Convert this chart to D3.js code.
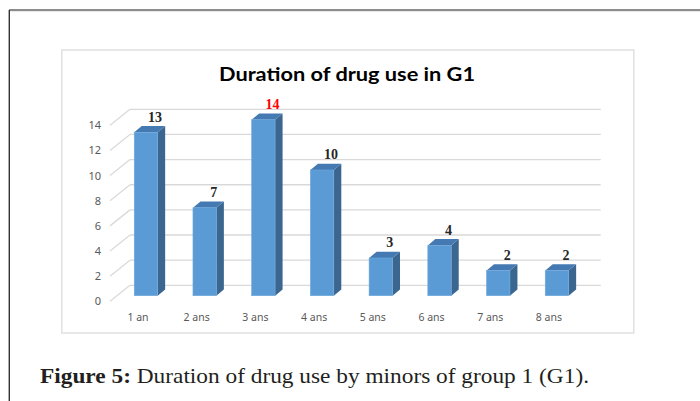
<!DOCTYPE html>
<html>
<head>
<meta charset="utf-8">
<script src="https://cdn.jsdelivr.net/npm/d3@7"></script>
<style>
  body { margin: 0; background: #fff; }
  svg { display: block; }
</style>
</head>
<body>
<svg width="700" height="401"></svg>
<script>
var categories = ["1 an", "2 ans", "3 ans", "4 ans", "5 ans", "6 ans", "7 ans", "8 ans"];
var values = [13, 7, 14, 10, 3, 4, 2, 2];
var yTicks = [0, 2, 4, 6, 8, 10, 12, 14];
var highlight = "3 ans";

var svg = d3.select("svg");

// page frame
svg.append("rect").attr("x", 9).attr("y", 9).attr("width", 691).attr("height", 2.2).attr("fill", "#8c8c8c");
svg.append("rect").attr("x", 8.6).attr("y", 10).attr("width", 1.4).attr("height", 391).attr("fill", "#333");

// chart area box
svg.append("rect")
  .attr("x", 61.8).attr("y", 50).attr("width", 572).attr("height", 283)
  .attr("fill", "#fff").attr("stroke", "#dedede").attr("stroke-width", 1.4);

svg.append("text")
  .attr("x", 347).attr("y", 81)
  .attr("text-anchor", "middle")
  .style("font-family", "Lato, 'Open Sans', sans-serif")
  .style("font-weight", "bold")
  .style("font-size", "19px")
  .attr("fill", "#000")
  .attr("textLength", 256)
  .attr("lengthAdjust", "spacingAndGlyphs")
  .text("Duration of drug use in G1");

// 3D geometry: back wall, floor depth, bar depth
var wallDx = 20, wallDy = -16;
var barDx = 7.5, barDy = -6.3;
var barShift = 10.4; // back wall baseline sits above bar baseline

var y = d3.scaleLinear().domain([0, 14]).range([285.3, 109.3]);
var x = d3.scaleBand().domain(categories).range([116.6, 586.3]);
var barW = 23.4;

var g = svg.append("g");

// gridlines on back wall + diagonals on side wall
yTicks.forEach(function (t) {
  g.append("line")
    .attr("x1", 130).attr("x2", 600.7)
    .attr("y1", y(t)).attr("y2", y(t))
    .attr("stroke", "#d9d9d9").attr("stroke-width", 1.3);
  g.append("line")
    .attr("x1", 130 - wallDx).attr("y1", y(t) - wallDy)
    .attr("x2", 130).attr("y2", y(t))
    .attr("stroke", "#d9d9d9").attr("stroke-width", 1.3);
  g.append("text")
    .attr("x", 101).attr("y", y(t) - wallDy + 4)
    .attr("text-anchor", "end")
    .style("font-family", "'Noto Sans', sans-serif")
    .style("font-size", "11px")
    .attr("fill", "#595959")
    .text(t);
});

var data = categories.map(function (c, i) { return { cat: c, v: values[i] }; });

var bars = g.append("g").selectAll("g")
  .data(data)
  .enter().append("g");

function bx(d) { return x(d.cat) + (x.bandwidth() - barW) / 2; }
function barBase() { return y(0) + barShift; }
function barTop(d) { return y(d.v) + barShift; }

// side face
bars.append("path")
  .attr("fill", "#3b6690")
  .attr("d", function (d) {
    var x1 = bx(d) + barW, b = barBase(), t = barTop(d);
    return "M" + x1 + "," + b + "L" + (x1 + barDx) + "," + (b + barDy) +
      "L" + (x1 + barDx) + "," + (t + barDy) + "L" + x1 + "," + t + "Z";
  });

// top face
bars.append("path")
  .attr("fill", "#4479b2")
  .attr("d", function (d) {
    var x0 = bx(d), t = barTop(d);
    return "M" + x0 + "," + t + "L" + (x0 + barW) + "," + t +
      "L" + (x0 + barW + barDx) + "," + (t + barDy) + "L" + (x0 + barDx) + "," + (t + barDy) + "Z";
  });

// front face
bars.append("rect")
  .attr("x", bx)
  .attr("y", barTop)
  .attr("width", barW)
  .attr("height", function (d) { return barBase() - barTop(d); })
  .attr("fill", "#5b9bd5")
  .attr("stroke", "#6fa8dc").attr("stroke-width", 0.6);

// value labels
bars.append("text")
  .attr("x", function (d) { return bx(d) + barW / 2 + 9; })
  .attr("y", function (d) { return barTop(d) + barDy - 4.2; })
  .attr("text-anchor", "middle")
  .style("font-family", "'Liberation Serif', 'Times New Roman', serif")
  .style("font-weight", "bold")
  .style("font-size", "14px")
  .attr("fill", function (d) { return d.cat === highlight ? "#ff0000" : "#262626"; })
  .text(function (d) { return d.v; });

// category labels
g.append("g").selectAll("text")
  .data(categories)
  .enter().append("text")
  .attr("x", function (c) { return x(c) + x.bandwidth() / 2 - 8; })
  .attr("y", 320.5)
  .attr("text-anchor", "middle")
  .style("font-family", "'Noto Sans', sans-serif")
  .style("font-size", "10.5px")
  .attr("fill", "#595959")
  .text(function (c) { return c; });

// caption
var cap = svg.append("text")
  .attr("x", 40).attr("y", 383.3)
  .style("font-family", "'Liberation Serif', 'DejaVu Serif', serif")
  .style("font-size", "22px")
  .attr("fill", "#231f20")
  .attr("textLength", 549)
  .attr("lengthAdjust", "spacingAndGlyphs");
cap.append("tspan").style("font-weight", "bold").text("Figure 5:");
cap.append("tspan").text(" Duration of drug use by minors of group 1 (G1).");
</script>
</body>
</html>
